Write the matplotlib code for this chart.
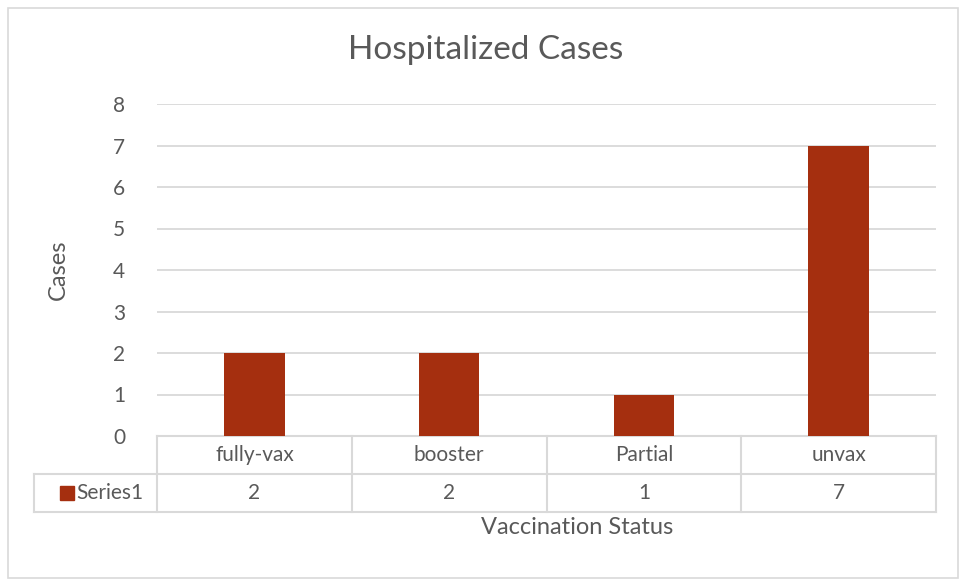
import matplotlib
matplotlib.use('Agg')
import matplotlib.pyplot as plt
from matplotlib.patches import Rectangle
from matplotlib.transforms import blended_transform_factory

categories = ['fully-vax', 'booster', 'Partial', 'unvax']
cases = [2, 2, 1, 7]
series_name = 'Series1'
yticks = [0, 1, 2, 3, 4, 5, 6, 7, 8]

BAR = '#A52F0F'
TXT = '#595959'
GRID = '#D9D9D9'
plt.rcParams['font.family'] = ['Lato', 'DejaVu Sans']

W, H = 964, 583
fig = plt.figure(figsize=(W / 100, H / 100), dpi=100)

def fx(px): return px / W
def fy(py): return 1 - py / H

# plot area in pixel coords
L, R, T, B = 157, 936, 104, 436
ax = fig.add_axes([fx(L), fy(B), fx(R) - fx(L), fy(T) - fy(B)])

x = range(len(categories))
ax.bar(x, cases, width=0.31, color=BAR, zorder=3)
ax.set_xlim(-0.5, len(categories) - 0.5)
ax.set_ylim(0, 8)
ax.set_yticks(yticks)
ax.set_xticks([])
ax.grid(axis='y', color=GRID, lw=1.3, zorder=0)
for s in ax.spines.values():
    s.set_visible(False)
ax.tick_params(axis='y', length=0, pad=23, labelsize=15, labelcolor=TXT)

# data table under the plot (axes-fraction units)
h = B - T
row1 = -(474 - B) / h
row2 = -(512 - B) / h
leg_left = (34 - L) / (R - L)
tr = ax.transAxes
line_kw = dict(color=GRID, lw=1.5, clip_on=False, transform=tr)
ax.plot([0, 1], [0, 0], **line_kw)
ax.plot([leg_left, 1], [row1, row1], **line_kw)
ax.plot([leg_left, 1], [row2, row2], **line_kw)
ax.plot([leg_left, leg_left], [row1, row2], **line_kw)
n = len(categories)
for i in range(n + 1):
    ax.plot([i / n, i / n], [0, row2], **line_kw)

mix = blended_transform_factory(ax.transData, ax.transAxes)
for i, (c, v) in enumerate(zip(categories, cases)):
    ax.text(i, row1 / 2, c, transform=mix, ha='center', va='center',
            fontsize=15, color=TXT)
    ax.text(i, (row1 + row2) / 2, str(v), transform=mix, ha='center',
            va='center', fontsize=15, color=TXT)

# legend key inside the table
ax.add_patch(Rectangle(((60 - L) / (R - L), -(500 - B) / h), 14 / (R - L), 14 / h,
                       transform=tr, color=BAR, clip_on=False))
ax.text((76 - L) / (R - L), (row1 + row2) / 2, series_name, transform=tr,
        ha='left', va='center', fontsize=15, color=TXT)

# titles and axis labels
fig.text(fx(486), fy(50), 'Hospitalized Cases', ha='center', va='center',
         fontsize=24, color=TXT)
fig.text(fx(58), fy(270), 'Cases', ha='center', va='center', rotation=90,
         fontsize=17, color=TXT)
fig.text(fx(577), fy(528), 'Vaccination Status', ha='center', va='center',
         fontsize=17, color=TXT)

# chart border
fig.add_artist(Rectangle((fx(8), fy(578)), fx(958) - fx(8), fy(8) - fy(578),
                         transform=fig.transFigure, fill=False,
                         edgecolor=GRID, lw=1.2))

fig.savefig('out.png', dpi=100)
